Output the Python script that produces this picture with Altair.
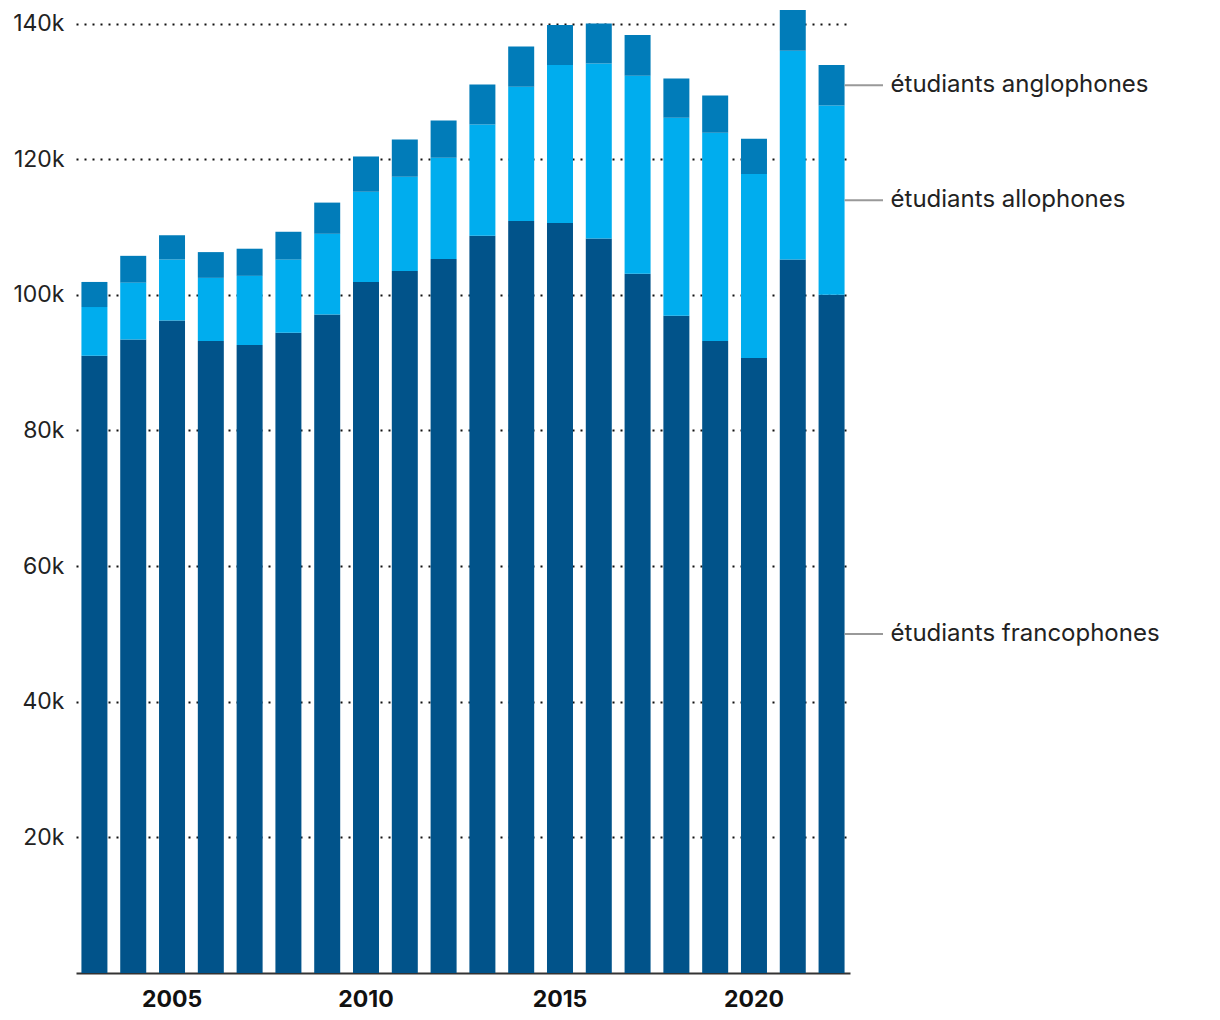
import altair as alt
import pandas as pd

years = [str(y) for y in range(2003, 2023)]
franco = [91.0, 93.4, 96.2, 93.2, 92.6, 94.4, 97.1, 101.9, 103.5, 105.3,
          108.7, 110.9, 110.6, 108.3, 103.1, 96.9, 93.2, 90.7, 105.2, 100.0]
allo = [7.2, 8.4, 9.0, 9.3, 10.2, 10.8, 11.9, 13.3, 13.9, 14.9,
        16.4, 19.8, 23.3, 25.8, 29.2, 29.2, 30.7, 27.1, 30.8, 27.9]
anglo = [3.7, 3.95, 3.6, 3.8, 4.0, 4.1, 4.6, 5.2, 5.5, 5.5,
         5.9, 5.9, 5.9, 5.9, 6.0, 5.8, 5.5, 5.2, 6.0, 6.0]
groups = ["étudiants francophones", "étudiants allophones", "étudiants anglophones"]
colors = ["#01538A", "#00ADEE", "#017CB9"]
x_ticks = ["2005", "2010", "2015", "2020"]
y_ticks = [20000, 40000, 60000, 80000, 100000, 120000, 140000]

rows = []
for i, y in enumerate(years):
    for k, (g, series) in enumerate(zip(groups, [franco, allo, anglo])):
        rows.append({"year": y, "group": g, "value": series[i] * 1000, "order": k})
df = pd.DataFrame(rows)

# label positions: middle of each segment of the last bar
last = df[df.year == years[-1]].sort_values("order").copy()
last["top"] = last["value"].cumsum()
last["mid"] = last["top"] - last["value"] / 2
lab = last[["year", "group", "mid"]]

FONT = "Inter"

xenc = alt.X("year:O", title=None,
             scale=alt.Scale(paddingInner=0.33, paddingOuter=0.14),
             axis=alt.Axis(values=x_ticks, labelAngle=0, ticks=False,
                           labelFontWeight="bold", labelFontSize=23,
                           labelColor="#111", labelPadding=15,
                           domainColor="#333", domainWidth=2, grid=False,
                           labelFont=FONT))

bars = alt.Chart(df).mark_bar().encode(
    x=xenc,
    y=alt.Y("value:Q", stack="zero", title=None,
            scale=alt.Scale(domain=[0, 142000], nice=False),
            axis=alt.Axis(values=y_ticks, format="~s", domain=False, ticks=False,
                          labelFontSize=23, labelColor="#222", labelPadding=12,
                          labelFont=FONT,
                          grid=True, gridColor="#111", gridDash=[2, 6],
                          gridWidth=2)),
    color=alt.Color("group:N", scale=alt.Scale(domain=groups, range=colors), legend=None),
    order=alt.Order("order:Q"),
)

rules = alt.Chart(lab).mark_rule(color="#999", strokeWidth=2).encode(
    x=alt.X("year:O", bandPosition=1),
    x2=alt.value(807),
    y=alt.Y("mid:Q"),
)

texts = alt.Chart(lab).mark_text(align="left", baseline="middle", dx=46,
                                 fontSize=24, font=FONT, color="#222").encode(
    x=alt.X("year:O", bandPosition=1),
    y=alt.Y("mid:Q"),
    text="group:N",
)

chart = alt.layer(bars, rules, texts).properties(
    width=774, height=963,
    padding={"left": 68, "top": 2, "right": 330, "bottom": 50},
    autosize=alt.AutoSizeParams(type="none"),
).configure_view(stroke=None).configure_axis(labelFont=FONT)

chart.save("out.html", embed_options={"renderer": "svg", "actions": False})
